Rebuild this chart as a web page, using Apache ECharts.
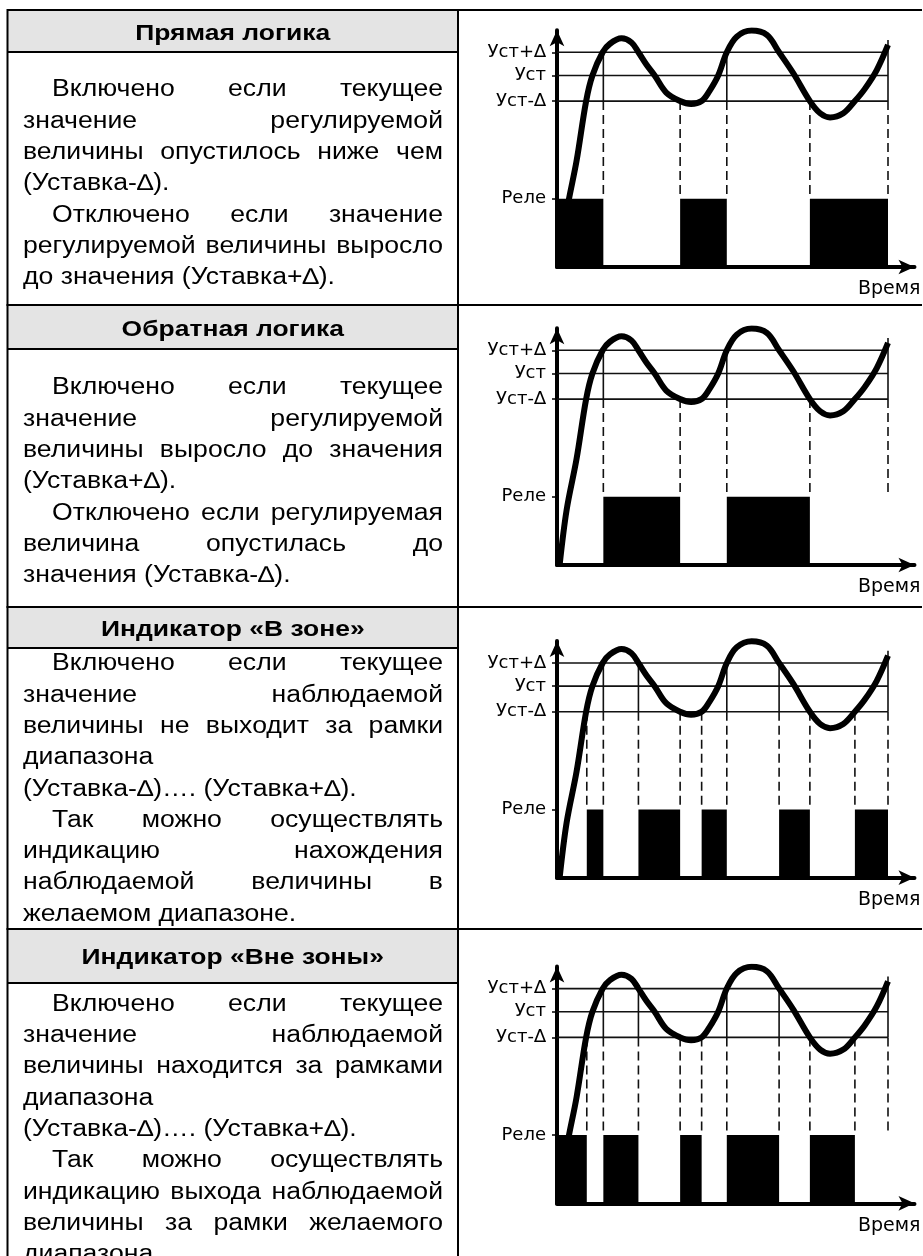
<!DOCTYPE html>
<html><head><meta charset="utf-8">
<script src="https://cdn.jsdelivr.net/npm/echarts@6/dist/echarts.min.js"></script>
<style>html,body{margin:0;padding:0;background:#fff}#c{width:923px;height:1256px}</style>
</head><body><div id="c"></div>
<script>
// ================= DATA =================
const headers = ['Прямая логика', 'Обратная логика', 'Индикатор «В зоне»', 'Индикатор «Вне зоны»'];
// [text, firstLineIndent, justified]
const row1Lines = [
  ['Включено если текущее', 1, 1],
  ['значение регулируемой', 0, 1],
  ['величины опустилось ниже чем', 0, 1],
  ['(Уставка-∆).', 0, 0],
  ['Отключено если значение', 1, 1],
  ['регулируемой величины выросло', 0, 1],
  ['до значения (Уставка+∆).', 0, 0]
];
const row2Lines = [
  ['Включено если текущее', 1, 1],
  ['значение регулируемой', 0, 1],
  ['величины выросло до значения', 0, 1],
  ['(Уставка+∆).', 0, 0],
  ['Отключено если регулируемая', 1, 1],
  ['величина опустилась до', 0, 1],
  ['значения (Уставка-∆).', 0, 0]
];
const row3Lines = [
  ['Включено если текущее', 1, 1],
  ['значение наблюдаемой', 0, 1],
  ['величины не выходит за рамки', 0, 1],
  ['диапазона', 0, 0],
  ['(Уставка-∆)…. (Уставка+∆).', 0, 0],
  ['Так можно осуществлять', 1, 1],
  ['индикацию нахождения', 0, 1],
  ['наблюдаемой величины в', 0, 1],
  ['желаемом диапазоне.', 0, 0]
];
const row4Lines = [
  ['Включено если текущее', 1, 1],
  ['значение наблюдаемой', 0, 1],
  ['величины находится за рамками', 0, 1],
  ['диапазона', 0, 0],
  ['(Уставка-∆)…. (Уставка+∆).', 0, 0],
  ['Так можно осуществлять', 1, 1],
  ['индикацию выхода наблюдаемой', 0, 1],
  ['величины за рамки желаемого', 0, 1],
  ['диапазона.', 0, 0]
];

// y levels (value units) and their tick labels
const levelValues = [28, 68, 78.5, 88];
const levelLabels = ['Реле', 'Уст-∆', 'Уст', 'Уст+∆'];
const xAxisName = 'Время';
const endTime = 100;       // right frame line
const frameTop = 93;       // top of right frame line

// controlled value over time (same curve in all four diagrams)
const curveTime  = [0.8, 2.9, 5.9, 8.8, 10.7, 13.8, 16, 19.5, 22.5, 24.6, 27, 29.5, 33, 37.2, 40.5, 43.7, 46, 48.7, 51.3, 54.3, 58.8, 63.4, 67.1, 71.4, 76.4, 79.5, 82.5, 86.5, 90, 93, 96.6, 100];
const curveValue = [0, 22.5, 43.4, 68, 78.5, 88, 91.5, 93.7, 92, 88, 83, 78.5, 71.5, 68, 66.8, 68, 72, 78.5, 88, 94.4, 96.9, 95.1, 88, 79.4, 68, 63, 61.3, 63, 68, 73, 80.7, 91];

// relay ON intervals [start, end]
const relay1 = [[0, 14], [37.2, 51.3], [76.4, 100]];
const relay2 = [[14, 37.2], [51.3, 76.4]];
const relay3 = [[9, 14], [24.6, 37.2], [43.7, 51.3], [67.1, 76.4], [90, 100]];
const relay4 = [[0, 9], [14, 24.6], [37.2, 43.7], [51.3, 67.1], [76.4, 90]];

// switching instants [time, value where projection starts]
const switch1 = [[14, 88], [37.2, 68], [51.3, 88], [76.4, 68], [endTime, frameTop]];
const switch2 = [[14, 88], [37.2, 68], [51.3, 88], [76.4, 68], [endTime, frameTop]];
const switch3 = [[9, 68], [14, 88], [24.6, 88], [37.2, 68], [43.7, 68], [51.3, 88], [67.1, 88], [76.4, 68], [90, 68], [endTime, frameTop]];
const switch4 = [[9, 68], [14, 88], [24.6, 88], [37.2, 68], [43.7, 68], [51.3, 88], [67.1, 88], [76.4, 68], [90, 68], [endTime, frameTop]];

// ================= LAYOUT =================
const rows = [
  {lines: row1Lines, relay: relay1, sw: switch1, hdrTop: 10, hdrBot: 52, hdrY: 33.5, textY: 90, axisY: 267},
  {lines: row2Lines, relay: relay2, sw: switch2, hdrTop: 305, hdrBot: 349, hdrY: 329.5, textY: 388, axisY: 565},
  {lines: row3Lines, relay: relay3, sw: switch3, hdrTop: 607, hdrBot: 648, hdrY: 630, textY: 664, axisY: 877.7},
  {lines: row4Lines, relay: relay4, sw: switch4, hdrTop: 929, hdrBot: 983, hdrY: 957.5, textY: 1004.5, axisY: 1203.3}
];
const LEFT = 7.5, MID = 458, RIGHT = 922, BOTTOM = 1256;
const TXT_L = 23, TXT_R = 443, INDENT = 29, LINE_STEP = 31.3;
const BODY_FONT = '23px "Liberation Sans", Arial, sans-serif';
const HEAD_FONT = 'bold 22px "Liberation Sans", Arial, sans-serif';
const X_MAX = 108, Y_MAX = 97, PX_X = 3.31, PX_Y = 2.44, AXIS_X = 557;

const ctx = document.createElement('canvas').getContext('2d');
function tw(font, s) { ctx.font = font; return ctx.measureText(s).width; }
const SX = 312 / tw(BODY_FONT, 'до значения (Уставка+∆).');
const SXH = 195 / tw(HEAD_FONT, 'Прямая логика');

const graphics = [];
function hline(y, x1, x2) { graphics.push({type: 'line', shape: {x1: x1, y1: y, x2: x2, y2: y}, style: {stroke: '#000', lineWidth: 2}, z: 10}); }
function vline(x, y1, y2) { graphics.push({type: 'line', shape: {x1: x, y1: y1, x2: x, y2: y2}, style: {stroke: '#000', lineWidth: 2}, z: 10}); }
function txt(s, x, y, font, sx, align) {
  graphics.push({type: 'text', x: x, y: y, scaleX: sx, z: 5,
    style: {text: s, font: font, fill: '#000', textAlign: align, align: align, textVerticalAlign: 'middle', verticalAlign: 'middle'}});
}

rows.forEach((r, i) => {
  graphics.push({type: 'rect', shape: {x: LEFT, y: r.hdrTop, width: MID - LEFT, height: r.hdrBot - r.hdrTop}, style: {fill: '#e4e4e4'}, z: 1});
  txt(headers[i], (LEFT + MID) / 2, r.hdrY, HEAD_FONT, SXH, 'center');
  hline(r.hdrBot, LEFT, MID);
  if (i === 0) hline(r.hdrTop, LEFT, RIGHT); else hline(r.hdrTop, LEFT - 1, RIGHT);
  r.lines.forEach((ln, k) => {
    const y = r.textY + k * LINE_STEP;
    const x0 = TXT_L + (ln[1] ? INDENT : 0);
    if (!ln[2]) { txt(ln[0], x0, y, BODY_FONT, SX, 'left'); return; }
    const words = ln[0].split(' ');
    const ws = words.map(w => tw(BODY_FONT, w) * SX);
    const total = ws.reduce((a, b) => a + b, 0);
    const gap = (TXT_R - x0 - total) / (words.length - 1);
    let x = x0;
    words.forEach((w, j) => { txt(w, x, y, BODY_FONT, SX, 'left'); x += ws[j] + gap; });
  });
});
vline(LEFT, 9, BOTTOM);
vline(MID, 9, BOTTOM);

// ================= CHARTS =================
const grids = [], xAxes = [], yAxes = [], series = [];
rows.forEach((r, i) => {
  const h = Y_MAX * PX_Y;
  grids.push({left: AXIS_X, top: r.axisY - h, width: X_MAX * PX_X, height: h});
  xAxes.push({gridIndex: i, type: 'value', min: 0, max: X_MAX,
    axisLine: {show: true, onZero: false, symbol: ['none', 'arrow'], symbolSize: [11, 16], lineStyle: {color: '#000', width: 4}},
    axisTick: {show: false}, axisLabel: {show: false}, splitLine: {show: false},
    name: xAxisName, nameLocation: 'end', nameGap: 6,
    nameTextStyle: {align: 'right', verticalAlign: 'top', padding: [13, 0, 0, 0], fontSize: 19, color: '#000', fontFamily: 'DejaVu Sans'}});
  yAxes.push({gridIndex: i, type: 'value', min: 0, max: Y_MAX,
    axisLine: {show: true, onZero: false, symbol: ['none', 'arrow'], symbolSize: [11, 16], lineStyle: {color: '#000', width: 4}},
    axisTick: {show: true, customValues: levelValues, length: 5, lineStyle: {color: '#000', width: 1.5}},
    axisLabel: {show: true, customValues: levelValues, margin: 11, color: '#000', fontSize: 18, fontFamily: 'DejaVu Sans',
      formatter: v => levelLabels[levelValues.indexOf(v)] || ''},
    splitLine: {show: false}});

  // level lines
  series.push({type: 'custom', xAxisIndex: i, yAxisIndex: i, silent: true, z: 2,
    data: levelValues.slice(1).map(v => [0, v, endTime]), encode: {x: [0, 2], y: 1},
    renderItem: (p, api) => {
      const a = api.coord([api.value(0), api.value(1)]), b = api.coord([api.value(2), api.value(1)]);
      return {type: 'line', shape: {x1: a[0], y1: a[1], x2: b[0], y2: b[1]}, style: {stroke: '#111', lineWidth: 1.6}};
    }});
  // relay bars
  series.push({type: 'custom', xAxisIndex: i, yAxisIndex: i, silent: true, z: 3,
    data: r.relay, encode: {x: [0, 1]},
    renderItem: (p, api) => {
      const a = api.coord([api.value(0), levelValues[0]]), b = api.coord([api.value(1), 0]);
      return {type: 'rect', shape: {x: a[0], y: a[1], width: b[0] - a[0], height: b[1] - a[1]}, style: {fill: '#000'}};
    }});
  // projections
  series.push({type: 'custom', xAxisIndex: i, yAxisIndex: i, silent: true, z: 3,
    data: r.sw, encode: {x: 0, y: 1},
    renderItem: (p, api) => {
      const t = api.value(0), top = api.value(1);
      const a = api.coord([t, top]), b = api.coord([t, levelValues[1]]), c = api.coord([t, levelValues[0]]);
      const ch = [{type: 'line', shape: {x1: b[0], y1: b[1], x2: c[0], y2: c[1]}, style: {stroke: '#111', lineWidth: 1.6, lineDash: [9, 5]}}];
      if (top > levelValues[1]) ch.push({type: 'line', shape: {x1: a[0], y1: a[1], x2: b[0], y2: b[1]}, style: {stroke: '#111', lineWidth: 1.6}});
      return {type: 'group', children: ch};
    }});
  // curve
  series.push({type: 'line', xAxisIndex: i, yAxisIndex: i, silent: true, z: 4,
    data: curveTime.map((t, k) => [t, curveValue[k]]), smooth: 0.35, showSymbol: false, symbol: 'none',
    lineStyle: {color: '#000', width: 6}});
});

const chart = echarts.init(document.getElementById('c'));
chart.setOption({
  animation: false, backgroundColor: '#fff',
  grid: grids, xAxis: xAxes, yAxis: yAxes, series: series, graphic: {elements: graphics}
});
</script></body></html>
